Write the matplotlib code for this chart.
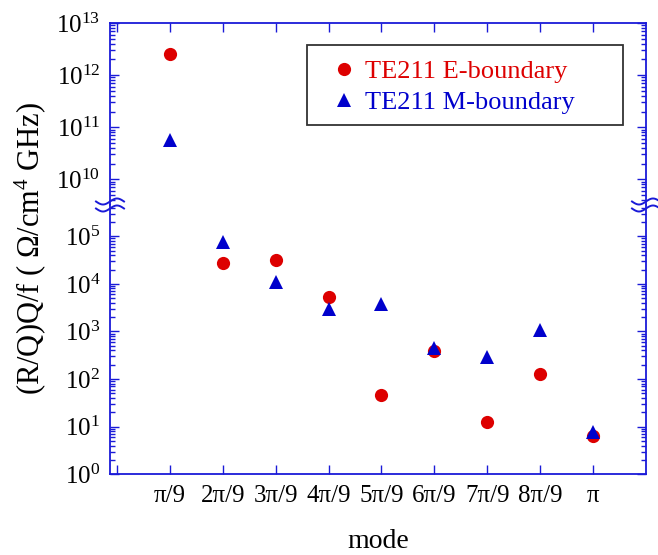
import numpy as np
import matplotlib.pyplot as plt
from matplotlib.lines import Line2D
from matplotlib.patches import Rectangle
from matplotlib.ticker import LogLocator, NullFormatter

plt.rcParams['font.family'] = ['Liberation Serif', 'DejaVu Serif']
plt.rcParams['mathtext.fontset'] = 'custom'
plt.rcParams['mathtext.rm'] = 'Liberation Serif'
plt.rcParams['mathtext.it'] = 'Liberation Serif:italic'
plt.rcParams['mathtext.default'] = 'regular'

# modos pi/9 ... pi
modos = [1, 2, 3, 4, 5, 6, 7, 8, 9]
etiquetas = ['', 'π/9', '2π/9', '3π/9', '4π/9', '5π/9', '6π/9', '7π/9', '8π/9', 'π']

# (R/Q)Q/f para cada condicion de frontera
e_boundary = [2.5e12, 2.8e4, 3.2e4, 5.4e3, 46, 395, 12.4, 126, 6.4]
m_boundary = [5.8e10, 7.7e4, 1.09e4, 2.94e3, 3.7e3, 450, 288, 1090, 7.85]

rojo = '#dd0000'
azul = '#0000cc'
azul_eje = '#1a1ad8'

W, H = 658, 555
fig = plt.figure(figsize=(W / 100, H / 100), dpi=100)

# limites de los ejes en pixeles
x_izq, x_der = 110, 646
y_sup, y_corte, y_inf = 23, 205, 474.3

ax_hi = fig.add_axes([x_izq / W, 1 - y_corte / H, (x_der - x_izq) / W, (y_corte - y_sup) / H])
ax_lo = fig.add_axes([x_izq / W, 1 - y_inf / H, (x_der - x_izq) / W, (y_inf - y_corte) / H])

for ax in (ax_hi, ax_lo):
    ax.plot(modos, e_boundary, 'o', color=rojo, ms=9.5, mew=0, zorder=3)
    ax.plot(modos, m_boundary, '^', color=azul, ms=10.5, mew=0, zorder=4)
    ax.set_yscale('log')
    ax.set_xlim(-0.13, 10)
    ax.set_xticks(range(0, 10))
    ax.yaxis.set_major_locator(LogLocator(base=10, numticks=30))
    ax.yaxis.set_minor_locator(LogLocator(base=10, subs=np.arange(2, 10), numticks=100))
    ax.yaxis.set_minor_formatter(NullFormatter())
    ax.tick_params(which='both', direction='in', color=azul_eje, width=1,
                   left=True, right=True, labelsize=18)
    ax.tick_params(which='major', length=6.5)
    ax.tick_params(which='minor', length=3.3)
    ax.tick_params(axis='y', pad=7)
    for s in ax.spines.values():
        s.set_color(azul_eje)
        s.set_linewidth(1.3)

ax_hi.set_ylim(10 ** 9.507, 1e13)
ax_lo.set_ylim(1, 10 ** 5.657)

ax_hi.spines['bottom'].set_visible(False)
ax_lo.spines['top'].set_visible(False)
ax_hi.tick_params(axis='x', bottom=False, top=True, labelbottom=False)
ax_lo.tick_params(axis='x', bottom=True, top=False, pad=8)
ax_lo.set_xticklabels(etiquetas)

# marcas de corte en ambos lados
t = np.linspace(-1, 1, 60)
for xs in (x_izq, x_der):
    for y0 in (201.5, 208.5):
        xp = xs + 14 * t
        yp = y0 - 3 * np.sin(np.pi * t)
        fig.add_artist(Line2D(xp / W, 1 - yp / H, color=azul_eje, lw=1.4))

# leyenda (marco dibujado aparte)
fig.add_artist(Rectangle((307 / W, 1 - 125 / H), 316 / W, 80 / H,
                         transform=fig.transFigure, facecolor='white',
                         edgecolor='#333333', lw=1.3, zorder=5))
handles = [Line2D([], [], ls='', marker='o', color=rojo, ms=9.5, mew=0),
           Line2D([], [], ls='', marker='^', color=azul, ms=10.5, mew=0)]
leg = fig.legend(handles, ['TE211 E-boundary', 'TE211 M-boundary'],
                 loc='center left', bbox_to_anchor=(331 / W, 1 - 87 / H),
                 fontsize=19, frameon=False,
                 handlelength=1.0, handletextpad=0.3, labelspacing=0.27,
                 borderpad=0, borderaxespad=0)
leg.set_zorder(6)
for txt, c in zip(leg.get_texts(), [rojo, azul]):
    txt.set_color(c)

fig.text(30 / W, 1 - 248.6 / H, '(R/Q)Q/f ( Ω/cm$^4$ GHz)', rotation=90,
         ha='center', va='center', fontsize=22)
fig.text(378 / W, 1 - 541 / H, 'mode', ha='center', va='center', fontsize=20)

fig.savefig('out.png', dpi=100)
